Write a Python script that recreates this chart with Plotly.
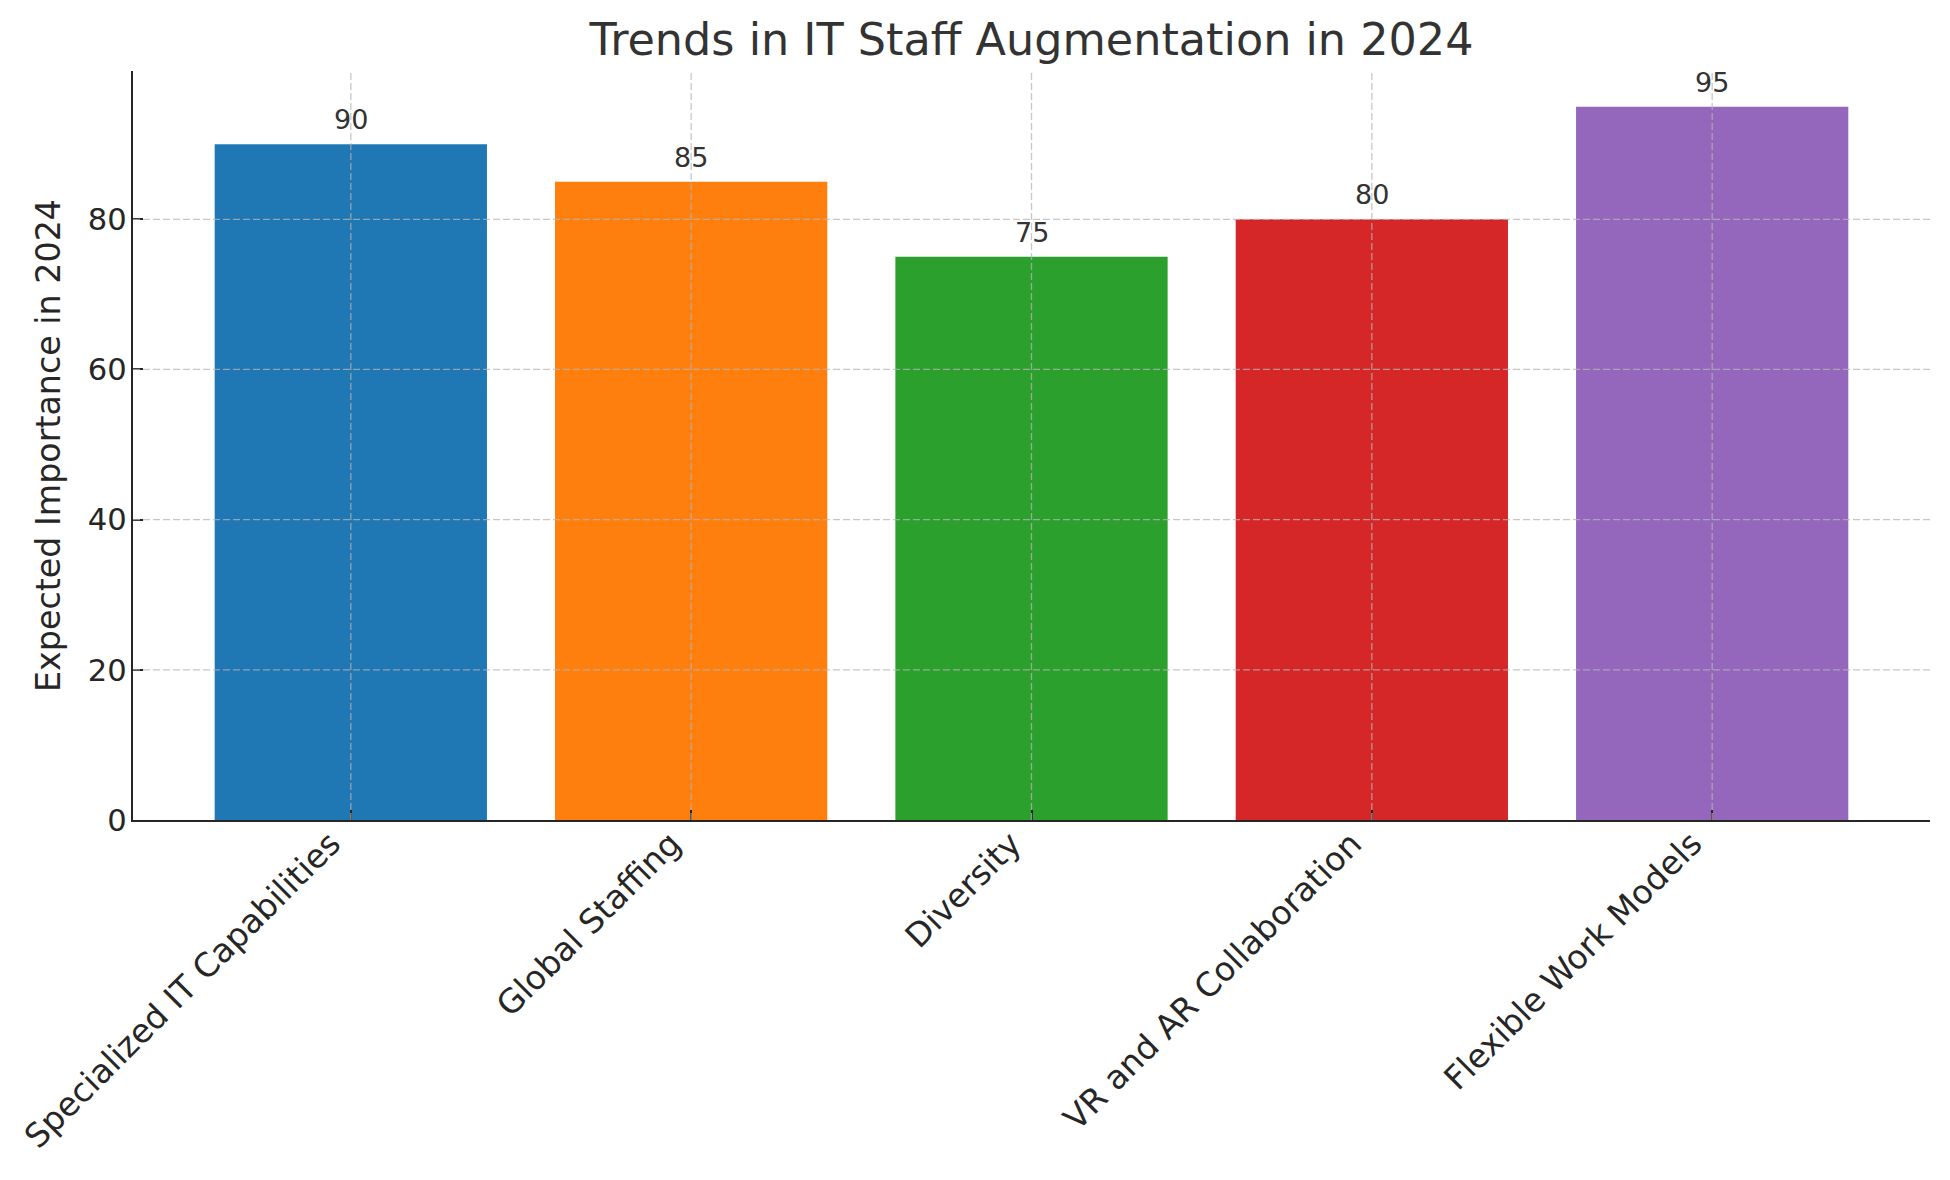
import plotly.graph_objects as go

categories = ["Specialized IT Capabilities", "Global Staffing", "Diversity",
              "VR and AR Collaboration", "Flexible Work Models"]
values = [90, 85, 75, 80, 95]
colors = ["#1f77b4", "#ff7f0e", "#2ca02c", "#d62728", "#9467bd"]
y_ticks = [0, 20, 40, 60, 80]

FONT = "DejaVu Sans"
GRID = "rgba(180,180,180,0.75)"

fig = go.Figure()
fig.add_trace(go.Bar(
    x=list(range(len(categories))), y=values, marker=dict(color=colors, line=dict(width=0)),
    width=0.8, showlegend=False, hoverinfo="x+y",
))

shapes = []
for i in range(len(categories)):
    shapes.append(dict(type="line", xref="x", yref="paper", x0=i, x1=i, y0=0, y1=1,
                       line=dict(color=GRID, width=1.3, dash="7px,3px"), layer="above"))
for t in y_ticks[1:]:
    shapes.append(dict(type="line", xref="paper", yref="y", x0=0, x1=1, y0=t, y1=t,
                       line=dict(color=GRID, width=1.3, dash="7px,3px"), layer="above"))

annotations = []
for i, v in enumerate(values):
    annotations.append(dict(x=i, y=v, xref="x", yref="y", text=str(v), showarrow=False,
                            yanchor="bottom", yshift=7,
                            font=dict(family=FONT, size=27, color="#333333")))

fig.update_layout(
    width=1950, height=1180,
    margin=dict(l=125, r=28, t=63, b=368),
    paper_bgcolor="white", plot_bgcolor="white",
    font=dict(family=FONT, color="#262626"),
    title=dict(text="Trends in IT Staff Augmentation in 2024", x=(125 + 1922) / 2 / 1950,
               xanchor="center", y=1 - 31 / 1180, yanchor="middle",
               font=dict(family=FONT, size=44.5, color="#333333")),
    shapes=shapes, annotations=annotations, bargap=0.2,
)
fig.update_xaxes(
    range=[-0.64, 4.64], tickmode="array", tickvals=list(range(len(categories))),
    ticktext=categories, tickangle=-45, tickfont=dict(family=FONT, size=33, color="#262626"),
    ticklabelshift=-20, ticklabelstandoff=-11, automargin=False,
    showgrid=False, zeroline=False, showline=True, linecolor="#262626", linewidth=2.2,
    ticks="inside", ticklen=10, tickwidth=1.6, tickcolor="#262626",
)
fig.update_yaxes(
    range=[0, 99.75], tickmode="array", tickvals=y_ticks,
    tickfont=dict(family=FONT, size=30.6, color="#262626"),
    ticklabelstandoff=-2, automargin=False,
    title=dict(text="Expected Importance in 2024", font=dict(family=FONT, size=33.3, color="#262626"),
               standoff=17),
    showgrid=False, zeroline=False, showline=True, linecolor="#262626", linewidth=2.2,
    ticks="inside", ticklen=10, tickwidth=1.6, tickcolor="#262626",
)

fig.write_html("out.html")
